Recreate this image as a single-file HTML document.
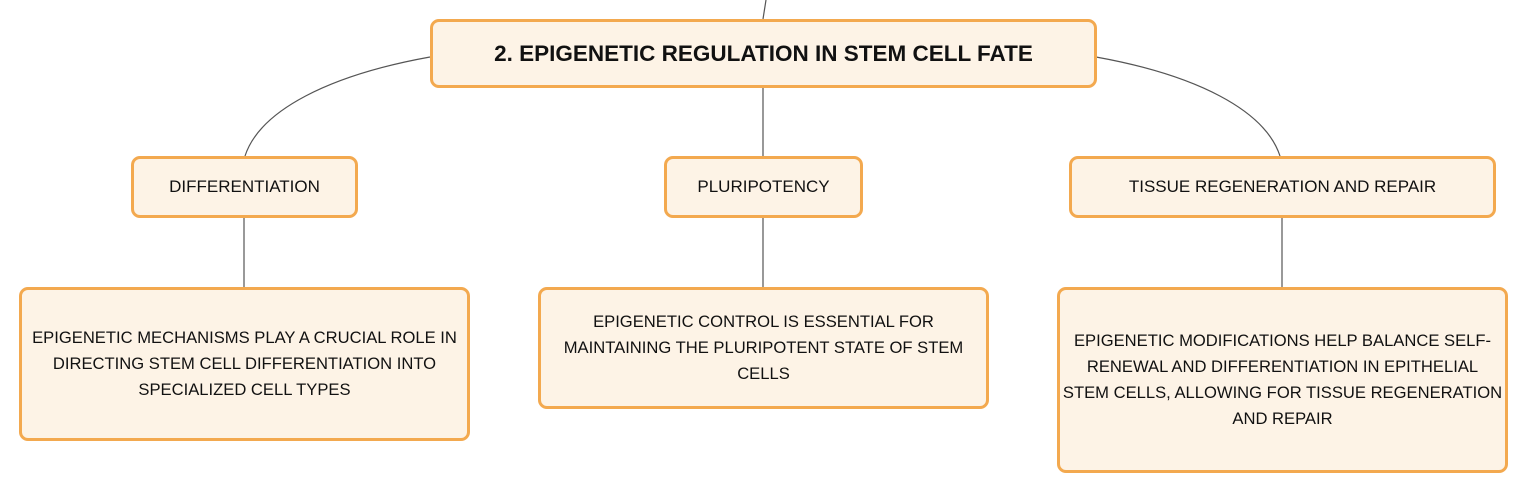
<!DOCTYPE html>
<html><head><style>
body{margin:0;width:1527px;height:494px;background:#fff;position:relative;overflow:hidden;font-family:"Liberation Sans",sans-serif;color:#111}
.b{position:absolute;box-sizing:border-box;border:3px solid #f3a94f;border-radius:9px;background:#fdf3e6;display:flex;align-items:center;justify-content:center;text-align:center}
.c{font-size:17px}
.d{font-size:16.6px;line-height:26px;white-space:nowrap}
svg{position:absolute;left:0;top:0}
</style></head><body>
<svg width="1527" height="494" fill="none" stroke="#555" stroke-width="1.2">
<path d="M766 0 L763 19"/>
<path d="M430 57 C330 75 260 110 245 156"/>
<path d="M763 87 V156"/>
<path d="M1096 57 C1196 75 1265 110 1280 156"/>
<path d="M244 217 V287"/>
<path d="M763 217 V287"/>
<path d="M1282 217 V287"/>
</svg>
<div class="b" style="left:430px;top:19px;width:667px;height:69px;font-weight:bold;font-size:22.5px">2. EPIGENETIC REGULATION IN STEM CELL FATE</div>
<div class="b c" style="left:131px;top:156px;width:227px;height:62px">DIFFERENTIATION</div>
<div class="b c" style="left:664px;top:156px;width:199px;height:62px">PLURIPOTENCY</div>
<div class="b c" style="left:1069px;top:156px;width:427px;height:62px">TISSUE REGENERATION AND REPAIR</div>
<div class="b d" style="left:19px;top:287px;width:451px;height:154px"><div>EPIGENETIC MECHANISMS PLAY A CRUCIAL ROLE IN<br>DIRECTING STEM CELL DIFFERENTIATION INTO<br>SPECIALIZED CELL TYPES</div></div>
<div class="b d" style="left:538px;top:287px;width:451px;height:122px"><div>EPIGENETIC CONTROL IS ESSENTIAL FOR<br>MAINTAINING THE PLURIPOTENT STATE OF STEM<br>CELLS</div></div>
<div class="b d" style="left:1057px;top:287px;width:451px;height:186px"><div>EPIGENETIC MODIFICATIONS HELP BALANCE SELF-<br>RENEWAL AND DIFFERENTIATION IN EPITHELIAL<br>STEM CELLS, ALLOWING FOR TISSUE REGENERATION<br>AND REPAIR</div></div>
</body></html>
